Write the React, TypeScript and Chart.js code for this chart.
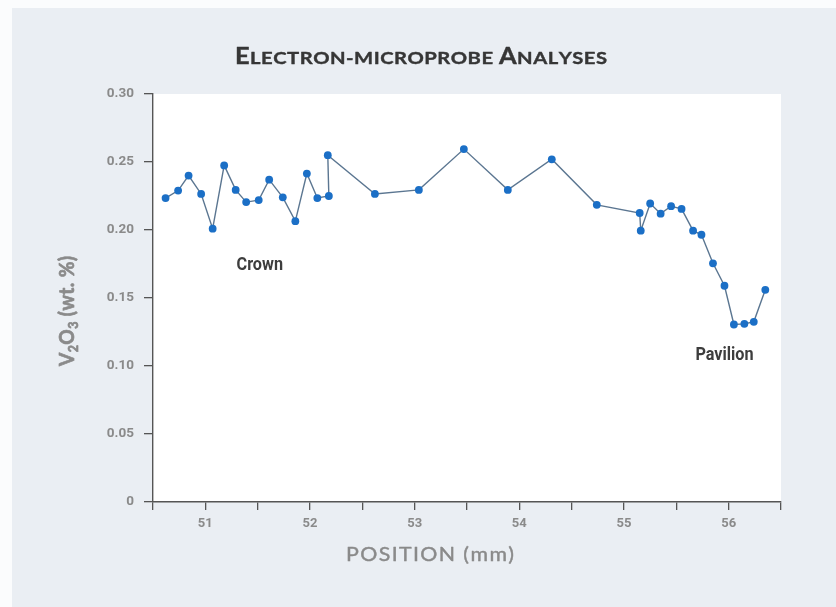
import { useEffect, useRef } from 'react';
import { Chart, registerables } from 'chart.js';

Chart.register(...registerables);

// ---- data ----
const positionMm = [
  50.62, 50.74, 50.84, 50.96, 51.07, 51.18, 51.29, 51.39, 51.51, 51.61, 51.74, 51.86,
  51.97, 52.07, 52.18, 52.17, 52.62, 53.04, 53.47, 53.89, 54.31, 54.74, 55.15, 55.16,
  55.25, 55.35, 55.45, 55.55, 55.66, 55.74, 55.85, 55.96, 56.05, 56.15, 56.24, 56.35,
];
const v2o3WtPct = [
  0.2235, 0.229, 0.24, 0.2265, 0.201, 0.2475, 0.2295, 0.2205, 0.222, 0.237, 0.224, 0.2065,
  0.2415, 0.2235, 0.225, 0.255, 0.2265, 0.2295, 0.2595, 0.2295, 0.252, 0.2185, 0.2125, 0.1995,
  0.2195, 0.212, 0.2175, 0.2155, 0.1995, 0.1965, 0.1755, 0.159, 0.1305, 0.131, 0.1325, 0.156,
];
const annotationLabels = ['Crown', 'Pavilion'];
const annotationX = [51.52, 55.96];
const annotationY = [0.174, 0.108];

const TITLE = 'Electron-microprobe Analyses';
const X_TITLE = 'POSITION (mm)';
const Y_TITLE_PARTS = [
  { text: 'V', sub: false },
  { text: '2', sub: true },
  { text: 'O', sub: false },
  { text: '3', sub: true },
  { text: ' (wt. %)', sub: false },
];

const X_MIN = 50.5;
const X_MAX = 56.5;
const X_STEP = 0.5;
const Y_MIN = 0;
const Y_MAX = 0.3;
const Y_STEP = 0.05;

const TICK_FONT = 'Roboto, "DejaVu Sans Condensed", sans-serif';
const HUMANIST = 'Lato, "Open Sans", sans-serif';

type Seg = { ch: string; font: string; dy: number };

// draws characters one by one, stretched horizontally to a given overall width
function drawFit(
  ctx: CanvasRenderingContext2D,
  segs: Seg[],
  cx: number,
  baseline: number,
  target: number,
  gap: number,
  stroke: number,
) {
  const widths = segs.map((s) => {
    ctx.font = s.font;
    return ctx.measureText(s.ch).width;
  });
  const natural = widths.reduce((a, b) => a + b, 0);
  const n = segs.length;
  const sx = Math.max(0.8, Math.min(1.4, (target - gap * (n - 1)) / natural));
  const total = natural * sx + gap * (n - 1);
  let x = cx - total / 2;
  ctx.textAlign = 'left';
  ctx.textBaseline = 'alphabetic';
  ctx.lineJoin = 'round';
  segs.forEach((s, i) => {
    ctx.font = s.font;
    ctx.save();
    ctx.translate(x, baseline + s.dy);
    ctx.scale(sx, 1);
    ctx.fillText(s.ch, 0, 0);
    if (stroke > 0) {
      ctx.lineWidth = stroke;
      ctx.strokeText(s.ch, 0, 0);
    }
    ctx.restore();
    x += widths[i] * sx + gap;
  });
}

const backgroundPlugin = {
  id: 'pageBackground',
  beforeDraw(chart: any) {
    const { ctx, width, height, chartArea } = chart;
    ctx.save();
    ctx.fillStyle = '#fbfcfd';
    ctx.fillRect(0, 0, width, height);
    ctx.fillStyle = '#eaeef3';
    ctx.fillRect(12, 8, width - 12, height - 8);
    ctx.fillStyle = '#ffffff';
    ctx.fillRect(chartArea.left, chartArea.top, chartArea.right - chartArea.left, chartArea.bottom - chartArea.top);
    ctx.restore();
  },
};

const textPlugin = {
  id: 'textOverlay',
  afterDraw(chart: any) {
    const { ctx } = chart;
    ctx.save();

    // title in small caps
    const bigFont = `bold 22px ${HUMANIST}`;
    const smallFont = `bold 17.5px ${HUMANIST}`;
    const titleSegs: Seg[] = [...TITLE].map((c) => {
      const isUpper = c === c.toUpperCase() && c !== c.toLowerCase();
      return { ch: c.toUpperCase(), font: isUpper ? bigFont : smallFont, dy: 0 };
    });
    ctx.fillStyle = '#363636';
    ctx.strokeStyle = '#363636';
    drawFit(ctx, titleSegs, 421, 63.5, 372, 0.5, 0.4);

    // x axis title
    ctx.fillStyle = '#8a8a8a';
    ctx.strokeStyle = '#8a8a8a';
    const xSegs: Seg[] = [...X_TITLE].map((c) => ({ ch: c, font: `normal 19px ${HUMANIST}`, dy: 0 }));
    drawFit(ctx, xSegs, 430, 561, 168, 1.4, 0.4);

    // y axis title (rotated)
    ctx.save();
    ctx.translate(74, 311);
    ctx.rotate(-Math.PI / 2);
    const ySegs: Seg[] = [];
    Y_TITLE_PARTS.forEach((p) => {
      for (const c of p.text) {
        ySegs.push({ ch: c, font: p.sub ? `bold 14px ${HUMANIST}` : `bold 21.5px ${HUMANIST}`, dy: p.sub ? 4 : 0 });
      }
    });
    drawFit(ctx, ySegs, 0, 0, 110, 0.4, 0.7);
    ctx.restore();

    // annotations
    const xs = chart.scales.x;
    const ys = chart.scales.y;
    ctx.fillStyle = '#3d3d3d';
    ctx.textAlign = 'center';
    ctx.textBaseline = 'middle';
    ctx.font = `bold 18px Roboto, sans-serif`;
    annotationLabels.forEach((t, i) => {
      const px = xs.getPixelForValue(annotationX[i]);
      const py = ys.getPixelForValue(annotationY[i]);
      ctx.save();
      ctx.translate(px, py);
      ctx.scale(0.9, 1);
      ctx.fillText(t, 0, 0);
      ctx.restore();
    });
    ctx.restore();
  },
};

export default function App() {
  const ref = useRef<HTMLCanvasElement | null>(null);

  useEffect(() => {
    if (!ref.current) return;
    const points = positionMm.map((x, i) => ({ x, y: v2o3WtPct[i] }));
    const chart = new Chart(ref.current, {
      type: 'scatter',
      data: {
        datasets: [
          {
            data: points,
            showLine: true,
            borderColor: '#5b7691',
            borderWidth: 1.4,
            pointRadius: 3.9,
            pointBackgroundColor: '#1b6fc6',
            pointBorderColor: '#1b6fc6',
            pointBorderWidth: 0,
            tension: 0,
          },
        ],
      },
      options: {
        responsive: false,
        animation: false,
        events: [],
        layout: { padding: { left: 0, top: 94, right: 55, bottom: 40 } },
        plugins: {
          legend: { display: false },
          title: { display: false },
          tooltip: { enabled: false },
        },
        scales: {
          x: {
            type: 'linear',
            min: X_MIN,
            max: X_MAX,
            afterFit: (scale: any) => {
              scale.height = 65;
            },
            ticks: {
              stepSize: X_STEP,
              maxTicksLimit: 30,
              autoSkip: false,
              maxRotation: 0,
              padding: 6,
              color: '#8a8a8a',
              font: { family: TICK_FONT, size: 13, weight: 'bold' },
              callback: (v: any) => (Math.abs(v - Math.round(v)) < 1e-9 ? String(Math.round(v)) : ''),
            },
            grid: { display: true, drawOnChartArea: false, drawTicks: true, tickLength: 8, color: '#555555', lineWidth: 1.3 },
            border: { display: true, color: '#555555', width: 1.4 },
            title: { display: false },
          },
          y: {
            type: 'linear',
            min: Y_MIN,
            max: Y_MAX,
            afterFit: (scale: any) => {
              scale.width = 153;
            },
            ticks: {
              stepSize: Y_STEP,
              maxTicksLimit: 30,
              padding: 10,
              color: '#8a8a8a',
              font: { family: TICK_FONT, size: 13.5, weight: 'bold' },
              callback: (v: any) => (Math.abs(v) < 1e-9 ? '0' : Number(v).toFixed(2)),
            },
            grid: { display: true, drawOnChartArea: false, drawTicks: true, tickLength: 9, color: '#555555', lineWidth: 1.3 },
            border: { display: true, color: '#555555', width: 1.4 },
            title: { display: false },
          },
        },
      },
      plugins: [backgroundPlugin, textPlugin],
    });
    return () => chart.destroy();
  }, []);

  return (
    <div style={{ position: 'absolute', left: 0, top: 0, width: 836, height: 607 }}>
      <canvas ref={ref} width={836} height={607} style={{ display: 'block', width: 836, height: 607 }} />
    </div>
  );
}
